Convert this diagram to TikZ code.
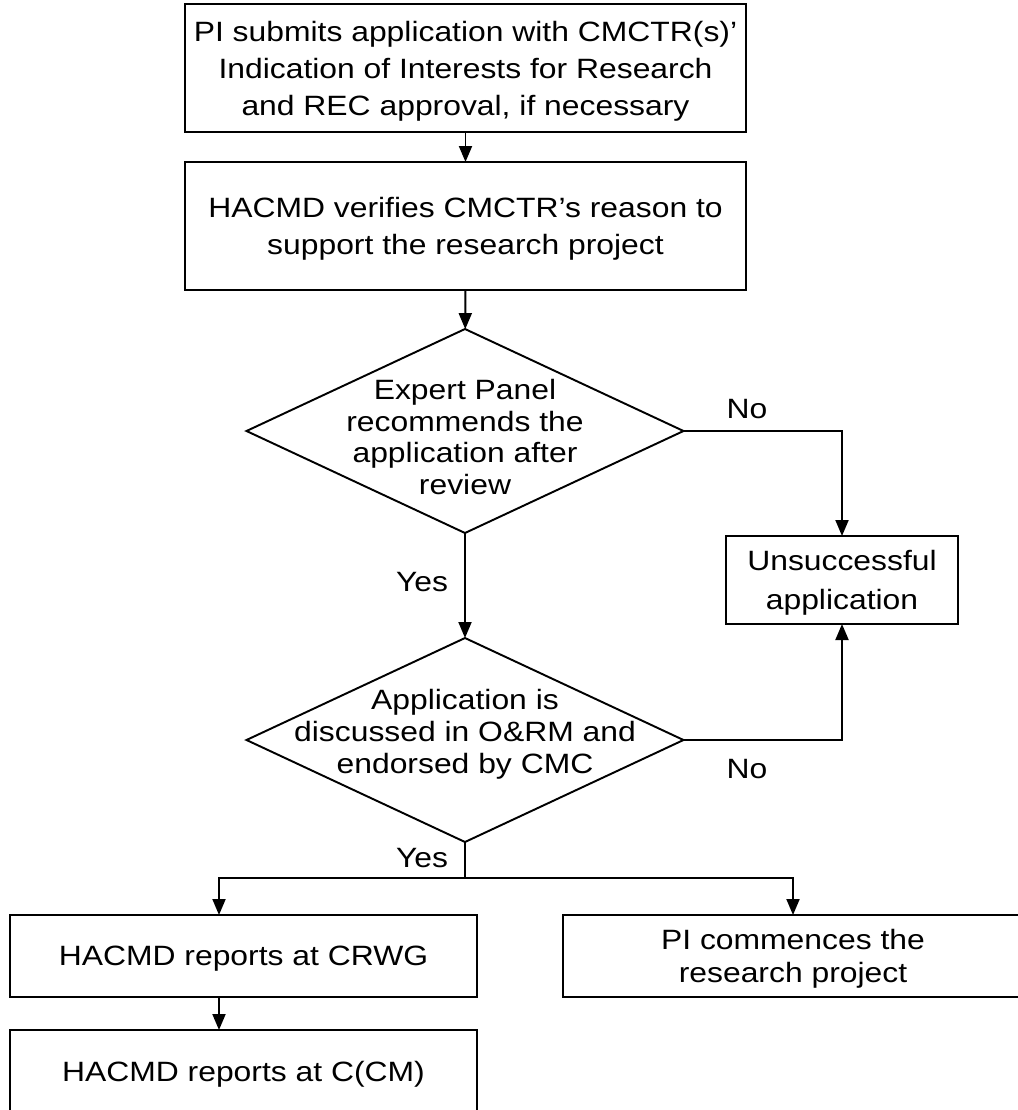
\documentclass[tikz,border=0pt]{standalone}
\usepackage{fontspec}
\setmainfont{Liberation Sans}[FakeStretch=1.14]
\usetikzlibrary{shapes.geometric,arrows.meta}
\begin{document}
\begin{tikzpicture}[
    line width=1.1pt,
    every node/.style={font=\fontsize{15.9}{21}\selectfont},
    box/.style={draw,rectangle,inner sep=0pt,outer sep=0pt,align=center,text depth=-0.08cm},
    dia/.style={draw,diamond,inner sep=0pt,outer sep=0pt,minimum width=8.74cm,minimum height=4.08cm},
    diatext/.style={align=center,inner sep=0pt,font=\fontsize{15.9}{18.2}\selectfont},
    lab/.style={inner sep=0pt},
    arr/.style={-{Triangle[width=0.26cm,length=0.32cm]}}
]
    \useasboundingbox (0,0) rectangle (20.36,-22.2);
    % steps down the middle
    \node[box,minimum width=11.22cm,minimum height=2.56cm] (sub) at (9.31,-1.36) {PI submits application with CMCTR(s)'\\Indication of Interests for Research\\and REC approval, if necessary};
    \node[box,minimum width=11.22cm,minimum height=2.56cm] (ver) at (9.31,-4.52) {HACMD verifies CMCTR's reason to\\support the research project};
    \node[dia] (pan) at (9.30,-8.62) {};
    \node[diatext,yshift=-0.12cm] (pantext) at (pan) {Expert Panel\\recommends the\\application after\\review};
    \node[box,minimum width=4.64cm,minimum height=1.76cm,font=\fontsize{15.9}{22.1}\selectfont] (uns) at (16.84,-11.60) {Unsuccessful\\application};
    \node[dia] (dis) at (9.30,-14.80) {};
    \node[diatext,yshift=0.12cm] (distext) at (dis) {Application is\\discussed in O\&RM and\\endorsed by CMC};
    \coordinate (split) at (9.30,-17.56);
    % outcomes
    \node[box,minimum width=9.34cm,minimum height=1.64cm] (crwg) at (4.87,-19.12) {HACMD reports at CRWG};
    \node[box,minimum width=9.20cm,minimum height=1.64cm,font=\fontsize{15.9}{18.7}\selectfont] (pi) at (15.86,-19.12) {PI commences the\\research project};
    \node[box,minimum width=9.34cm,minimum height=1.64cm] (ccm) at (4.87,-21.42) {HACMD reports at C(CM)};
    % connectors
    \draw[arr] (sub) -- (ver);
    \draw[arr] (ver) -- (pan);
    \draw[arr] (pan.east) -| node[lab,pos=0.2,above=0.22cm] {No} (uns.north);
    \draw[arr] (pan.south) -- node[lab,pos=0.47,left=0.32cm] {Yes} (dis.north);
    \draw[arr] (dis.east) -| node[lab,pos=0.2,below=0.36cm] {No} (uns.south);
    \draw (dis.south) -- node[lab,pos=0.44,left=0.32cm] {Yes} (split);
    \draw[arr] (split) -| ([xshift=-0.49cm]crwg.north);
    \draw[arr] (split) -| (pi.north);
    \draw[arr] ([xshift=-0.49cm]crwg.south) -- ([xshift=-0.49cm]ccm.north);
\end{tikzpicture}
\end{document}
